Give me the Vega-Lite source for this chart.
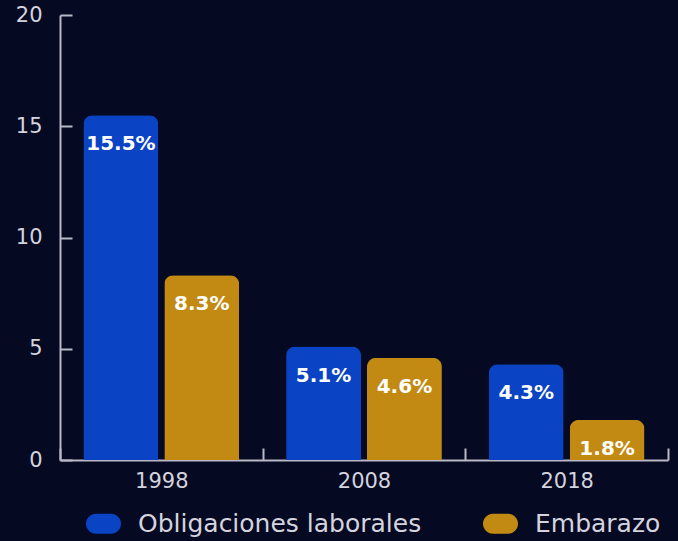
{
  "$schema": "https://vega.github.io/schema/vega-lite/v6.json",
  "autosize": "none",
  "width": 608,
  "height": 445,
  "padding": {"left": 60, "top": 15, "right": 10, "bottom": 81},
  "background": "#050922",
  "data": {"values": [
    {"year": "1998", "serie": "Obligaciones laborales", "valor": 15.5, "etiqueta": "15.5%"},
    {"year": "1998", "serie": "Embarazo", "valor": 8.3, "etiqueta": "8.3%"},
    {"year": "2008", "serie": "Obligaciones laborales", "valor": 5.1, "etiqueta": "5.1%"},
    {"year": "2008", "serie": "Embarazo", "valor": 4.6, "etiqueta": "4.6%"},
    {"year": "2018", "serie": "Obligaciones laborales", "valor": 4.3, "etiqueta": "4.3%"},
    {"year": "2018", "serie": "Embarazo", "valor": 1.8, "etiqueta": "1.8%"}
  ]},
  "config": {
    "view": {"stroke": null},
    "font": "DejaVu Sans"
  },
  "encoding": {
    "x": {
      "field": "year", "type": "nominal", "title": null,
      "scale": {"paddingInner": 0, "paddingOuter": 0},
      "axis": {
        "labelAngle": 0, "labelColor": "#d4d4de", "labelFontSize": 21, "labelPadding": 22,
        "domainColor": "#b8b8c6", "domainWidth": 2, "tickColor": "#b8b8c6", "tickWidth": 2,
        "tickSize": -12, "tickBand": "extent", "grid": false
      }
    },
    "xOffset": {"field": "serie", "type": "nominal", "sort": ["Obligaciones laborales", "Embarazo"],
      "scale": {"paddingInner": 0.074, "paddingOuter": 0.29}}
  },
  "layer": [
    {
      "mark": {"type": "bar", "cornerRadiusTopLeft": 9, "cornerRadiusTopRight": 9},
      "encoding": {
        "y": {
          "field": "valor", "type": "quantitative", "title": null,
          "scale": {"domain": [0, 20]},
          "axis": {
            "values": [0, 5, 10, 15, 20], "grid": false, "labelColor": "#d4d4de", "labelFontSize": 21,
            "labelPadding": 30, "domainColor": "#b8b8c6", "domainWidth": 2, "tickColor": "#b8b8c6",
            "tickWidth": 2, "tickSize": -12
          }
        },
        "color": {
          "field": "serie", "type": "nominal", "sort": ["Obligaciones laborales", "Embarazo"],
          "scale": {"domain": ["Obligaciones laborales", "Embarazo"], "range": ["#0a43c4", "#c28a12"]},
          "legend": {
            "title": null, "orient": "none", "direction": "horizontal", "legendX": 25, "legendY": 490,
            "symbolType": "M -0.43,-0.57 H 0.43 A 0.57 0.57 0 0 1 0.43 0.57 H -0.43 A 0.57 0.57 0 0 1 -0.43 -0.57 Z",
            "symbolSize": 1225, "symbolOpacity": 1, "labelColor": "#d4d4de", "labelFontSize": 25,
            "labelOffset": 16, "labelLimit": 400, "columnPadding": 60
          }
        }
      }
    },
    {
      "mark": {"type": "text", "color": "white", "font": "DejaVu Sans", "fontWeight": "bold", "fontSize": 20, "baseline": "middle", "dy": 29},
      "encoding": {
        "y": {"field": "valor", "type": "quantitative"},
        "text": {"field": "etiqueta"}
      }
    }
  ]
}
